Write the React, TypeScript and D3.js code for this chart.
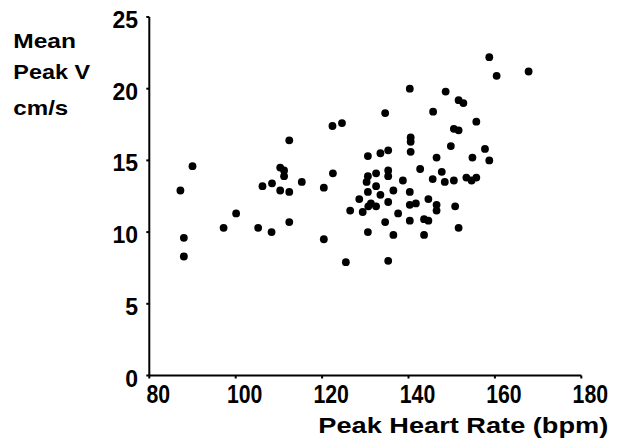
import { useEffect, useRef } from "react";
import * as d3 from "d3";

// Peak heart rate (bpm) for each subject
const heartRate = [
  90.0, 87.2, 88.0, 88.0, 97.2, 100.1, 105.2, 108.3, 106.2, 108.4, 110.3, 112.4,
  110.3, 111.2, 111.2, 112.4, 112.4, 115.3, 120.4, 120.4, 122.4, 122.5, 124.6,
  125.5, 126.5, 128.6, 129.4, 130.6, 130.6, 130.3, 130.6, 130.6, 131.3, 132.5,
  130.7, 132.5, 132.5, 133.5, 133.5, 134.6, 134.6, 135.3, 135.3, 135.3, 135.3,
  135.3, 136.5, 136.5, 137.6, 138.7, 140.3, 140.5, 140.5, 140.5, 140.3, 140.3,
  141.7, 140.3, 142.7, 143.6, 144.6, 143.6, 144.6, 145.7, 145.6, 146.5, 146.5,
  146.5, 147.7, 148.4, 148.6, 149.8, 150.5, 151.6, 150.5, 150.8, 151.6, 151.6,
  152.7, 153.4, 154.6, 155.7, 154.8, 155.7, 157.7, 158.7, 158.7, 160.4, 167.8,
];

// Mean peak velocity (cm/s), same order as heartRate
const peakV = [
  14.6, 12.9, 9.6, 8.3, 10.3, 11.3, 10.3, 10.0, 13.2, 13.4, 12.9, 12.8, 14.5,
  14.3, 13.9, 16.4, 10.7, 13.5, 13.1, 9.5, 17.4, 14.1, 17.6, 7.9, 11.5, 12.3,
  11.4, 15.3, 13.9, 13.5, 12.8, 10.0, 12.0, 11.8, 11.8, 13.2, 14.1, 15.5, 12.6,
  18.3, 10.7, 15.7, 14.3, 13.9, 12.1, 8.0, 12.9, 9.8, 11.3, 13.6, 20.0, 16.6,
  16.3, 15.6, 12.8, 11.9, 12.0, 10.8, 14.4, 10.9, 10.8, 9.8, 12.3, 18.4, 13.7,
  15.2, 11.9, 11.5, 14.2, 13.5, 19.8, 16.0, 17.2, 17.1, 13.6, 11.8, 10.3, 19.2,
  19.0, 13.8, 13.6, 13.8, 15.2, 17.7, 15.8, 15.0, 22.2, 20.9, 21.2,
];

const xTicks = [80, 100, 120, 140, 160, 180];
const yTicks = [0, 5, 10, 15, 20, 25];
const yLabelLines = ["Mean", "Peak V", "cm/s"];
const xTitle = "Peak Heart Rate (bpm)";

export default function App() {
  const ref = useRef<SVGSVGElement>(null);

  useEffect(() => {
    const svg = d3.select(ref.current);
    svg.selectAll("*").remove();

    const font = "'Liberation Sans', Arial, sans-serif";

    const x = d3.scaleLinear().domain([80, 180]).range([149.3, 581.3]);
    const y = d3.scaleLinear().domain([0, 25]).range([375.5, 17]);

    const data = heartRate.map((hr, i) => ({ hr, v: peakV[i] }));

    // axes lines
    svg
      .append("line")
      .attr("x1", x(80))
      .attr("x2", x(180))
      .attr("y1", y(0))
      .attr("y2", y(0))
      .attr("stroke", "#000")
      .attr("stroke-width", 2);
    svg
      .append("line")
      .attr("x1", x(80))
      .attr("x2", x(80))
      .attr("y1", y(0))
      .attr("y2", y(25))
      .attr("stroke", "#000")
      .attr("stroke-width", 2);

    // x ticks + labels
    xTicks.forEach((t) => {
      svg
        .append("line")
        .attr("x1", x(t))
        .attr("x2", x(t))
        .attr("y1", y(0))
        .attr("y2", y(0) + 3)
        .attr("stroke", "#000")
        .attr("stroke-width", 2);
      svg
        .append("text")
        .attr("transform", `translate(${x(t) + 9},403) scale(0.85,1)`)
        .attr("text-anchor", "middle")
        .attr("font-family", font)
        .attr("font-weight", "bold")
        .attr("font-size", 25)
        .text(t);
    });

    // y ticks + labels
    yTicks.forEach((t) => {
      svg
        .append("line")
        .attr("x1", x(80) - 3)
        .attr("x2", x(80))
        .attr("y1", y(t))
        .attr("y2", y(t))
        .attr("stroke", "#000")
        .attr("stroke-width", 2);
      svg
        .append("text")
        .attr("x", 138)
        .attr("y", y(t) + 11)
        .attr("text-anchor", "end")
        .attr("font-family", font)
        .attr("font-weight", "bold")
        .attr("font-size", 23)
        .text(t);
    });

    // y axis label (three lines, top left)
    const lineY = [48.3, 79, 115];
    const lineW = [62.7, 76.7, 55];
    yLabelLines.forEach((s, i) => {
      svg
        .append("text")
        .attr("x", 13.3)
        .attr("y", lineY[i])
        .attr("font-family", font)
        .attr("font-weight", "bold")
        .attr("font-size", 21)
        .attr("textLength", lineW[i])
        .attr("lengthAdjust", "spacingAndGlyphs")
        .text(s);
    });

    // x axis title
    svg
      .append("text")
      .attr("x", 318.3)
      .attr("y", 433.3)
      .attr("font-family", font)
      .attr("font-weight", "bold")
      .attr("font-size", 22)
      .attr("textLength", 290)
      .attr("lengthAdjust", "spacingAndGlyphs")
      .text(xTitle);

    // points
    svg
      .append("g")
      .selectAll("circle")
      .data(data)
      .join("circle")
      .attr("cx", (d) => x(d.hr))
      .attr("cy", (d) => y(d.v))
      .attr("r", 3.9)
      .attr("fill", "#000");
  }, []);

  return (
    <svg
      ref={ref}
      width={627}
      height={446}
      style={{ position: "absolute", left: 0, top: 0, background: "#fff" }}
    ></svg>
  );
}
